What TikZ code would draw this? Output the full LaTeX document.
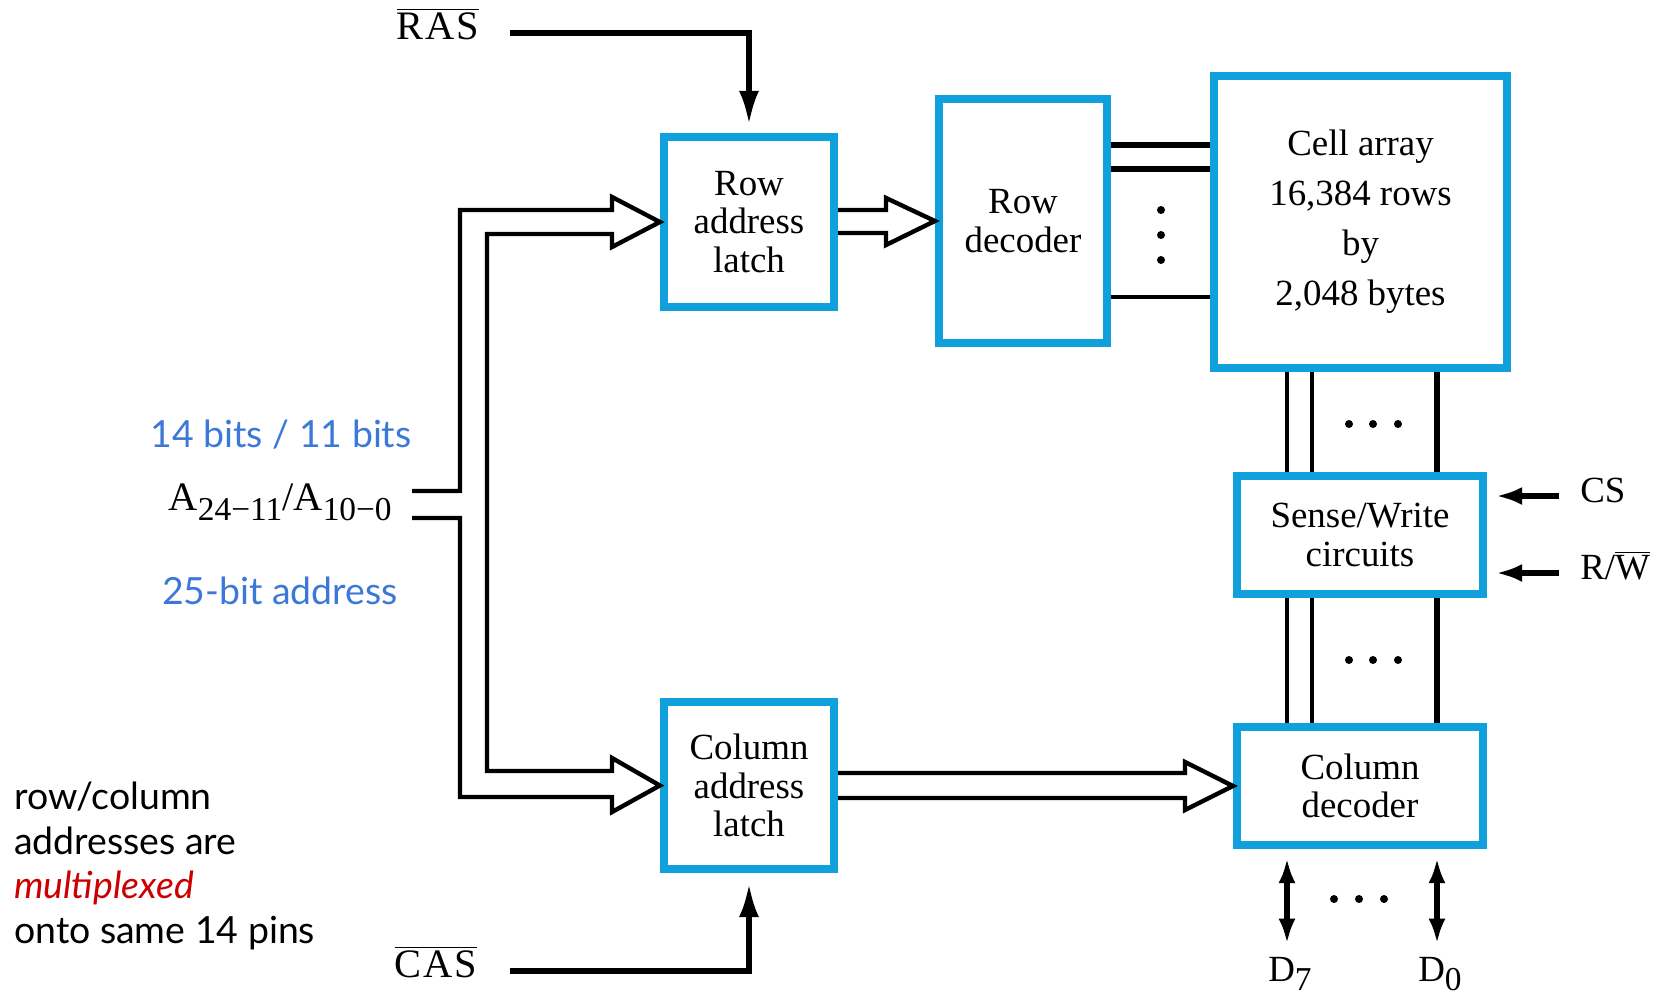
\documentclass[tikz,border=0pt]{standalone}
\usepackage{fontspec}
\setmainfont{Liberation Serif}
\newfontfamily\notefont{Lato}
\usetikzlibrary{arrows.meta}

\definecolor{boxblue}{RGB}{16,160,220}
\definecolor{noteblue}{RGB}{60,120,216}
\definecolor{notered}{RGB}{204,0,0}

% lowered index, as in A_{24-11}
\newcommand{\lo}[1]{\raisebox{-0.55ex}{\fontsize{19}{19}\selectfont #1}}

\tikzset{
  block/.style={draw=boxblue, line width=4.7pt, align=center,
    font=\fontsize{21}{22}\selectfont},
  bus/.style={line width=2.5pt, line join=miter},
  sig/.style={line width=3.1pt, -{Latex[length=0.68cm,width=0.4cm]}},
  ctl/.style={line width=2.9pt, -{Latex[length=0.52cm,width=0.36cm]}},
  dio/.style={line width=2.9pt, {Latex[length=0.5cm,width=0.34cm]}-{Latex[length=0.5cm,width=0.34cm]}},
  sigtext/.style={inner sep=0pt, text height=1.5ex, text depth=0pt,
    font=\fontsize{21}{22}\selectfont},
  note/.style={font=\notefont\fontsize{21.3}{25.4}\selectfont, align=left},
}

\begin{document}
\begin{tikzpicture}[x=0.02cm, y=-0.02cm]
  \useasboundingbox (0,0) rectangle (1663,1001);

  % Blocks
  \node[block, minimum width=3.4cm, minimum height=3.4cm] (rlatch) at (749,222) {Row\\address\\latch};
  \node[block, minimum width=3.36cm, minimum height=4.88cm] (rdec) at (1023,221) {Row\\decoder};
  \node[block, minimum width=5.86cm, minimum height=5.84cm,
    font=\fontsize{21}{28.4}\selectfont] (cells) at (1360.5,222) {Cell array\\16,384 rows\\by\\2,048 bytes};
  \node[block, minimum width=4.92cm, minimum height=2.36cm] (sense) at (1360,535) {Sense/Write\\circuits};
  \node[block, minimum width=4.92cm, minimum height=2.36cm] (cdec) at (1360,786) {Column\\decoder};
  \node[block, minimum width=3.4cm, minimum height=3.34cm] (clatch) at (749,785.5) {Column\\address\\latch};

  % Strobes
  \node[sigtext, anchor=east, font=\fontsize{23}{24}\selectfont] (ras) at (479,33)
    {$\overline{\mbox{R\kern1pt A\kern1pt S}}$};
  \node[sigtext, anchor=east, font=\fontsize{23}{24}\selectfont] (cas) at (477,971)
    {$\overline{\mbox{C\kern1pt A\kern1pt S}}$};
  \draw[sig, shorten <=0.62cm, shorten >=0.16cm] (ras.east) -| (rlatch.north);
  \draw[sig, shorten <=0.66cm, shorten >=0.2cm] (cas.east) -| (clatch.south);

  % Control inputs
  \node[sigtext, anchor=west] (cs) at (1580,496) {CS};
  \node[sigtext, anchor=west] (rw) at (1580,573) {R/$\overline{\mbox{W}}$};
  \draw[ctl, shorten <=0.42cm, shorten >=0.18cm] (cs.west) -- (cs.west -| sense.east);
  \draw[ctl, shorten <=0.42cm, shorten >=0.18cm] (rw.west) -- (rw.west -| sense.east);

  % Address pins and bus
  \node[anchor=east, inner sep=0pt, font=\fontsize{23}{24}\selectfont] (addr) at (392,502)
    {A\lo{24−11}/A\lo{10−0}};
  \draw[bus] (412,491) -- (460,491) -- (460,210) -- (612,210) -- (612,197) -- (rlatch.west)
    -- (612,247) -- (612,234) -- (487,234) -- (487,771) -- (612,771) -- (612,758)
    -- (clatch.west) -- (612,812) -- (612,797) -- (460,797) -- (460,518) -- (412,518);
  \draw[bus] (rlatch.east |- 0,210) -- (886,210) -- (886,198) -- (rdec.west)
    -- (886,245) -- (886,233) -- (rlatch.east |- 0,233);
  \draw[bus] (clatch.east |- 0,773) -- (1185,773) -- (1185,762) -- (cdec.west)
    -- (1185,810) -- (1185,798) -- (clatch.east |- 0,798);

  % Word lines
  \foreach \y/\w in {145/3.4pt, 169/3.4pt, 297/2.7pt}
    \draw[line width=\w] (rdec.east |- 0,\y) -- (cells.west |- 0,\y);
  \foreach \y in {210,235,260}
    \fill (1161,\y) circle (0.08cm);

  % Bit lines
  \foreach \x/\w in {1287/2.3pt, 1312/2.3pt, 1437/2.9pt} {
    \draw[line width=\w] (cells.south -| \x,0) -- (sense.north -| \x,0);
    \draw[line width=\w] (sense.south -| \x,0) -- (cdec.north -| \x,0);
  }
  \foreach \x in {1349,1373,1398} {
    \fill (\x,424) circle (0.08cm);
    \fill (\x,660) circle (0.08cm);
  }

  % Data lines
  \node[sigtext] (d7) at (1290,975) {D\lo{7}};
  \node[sigtext] (d0) at (1440,975) {D\lo{0}};
  \draw[dio, shorten <=0.18cm, shorten >=0.5cm] (cdec.south -| 1287,0) -- (d7.north -| 1287,0);
  \draw[dio, shorten <=0.18cm, shorten >=0.5cm] (cdec.south -| 1437,0) -- (d0.north -| 1437,0);
  \foreach \x in {1334,1359,1384}
    \fill (\x,899) circle (0.08cm);

  % Notes
  \node[note, text=noteblue] (bits) at (281,435) {14 bits / 11 bits};
  \node[note, text=noteblue] (width) at (280,591) {25-bit address};
  \node[note, anchor=west] (mux) at (8,866)
    {row/column\\addresses are\\{\color{notered}\itshape multiplexed}\\onto same 14 pins};
\end{tikzpicture}
\end{document}
